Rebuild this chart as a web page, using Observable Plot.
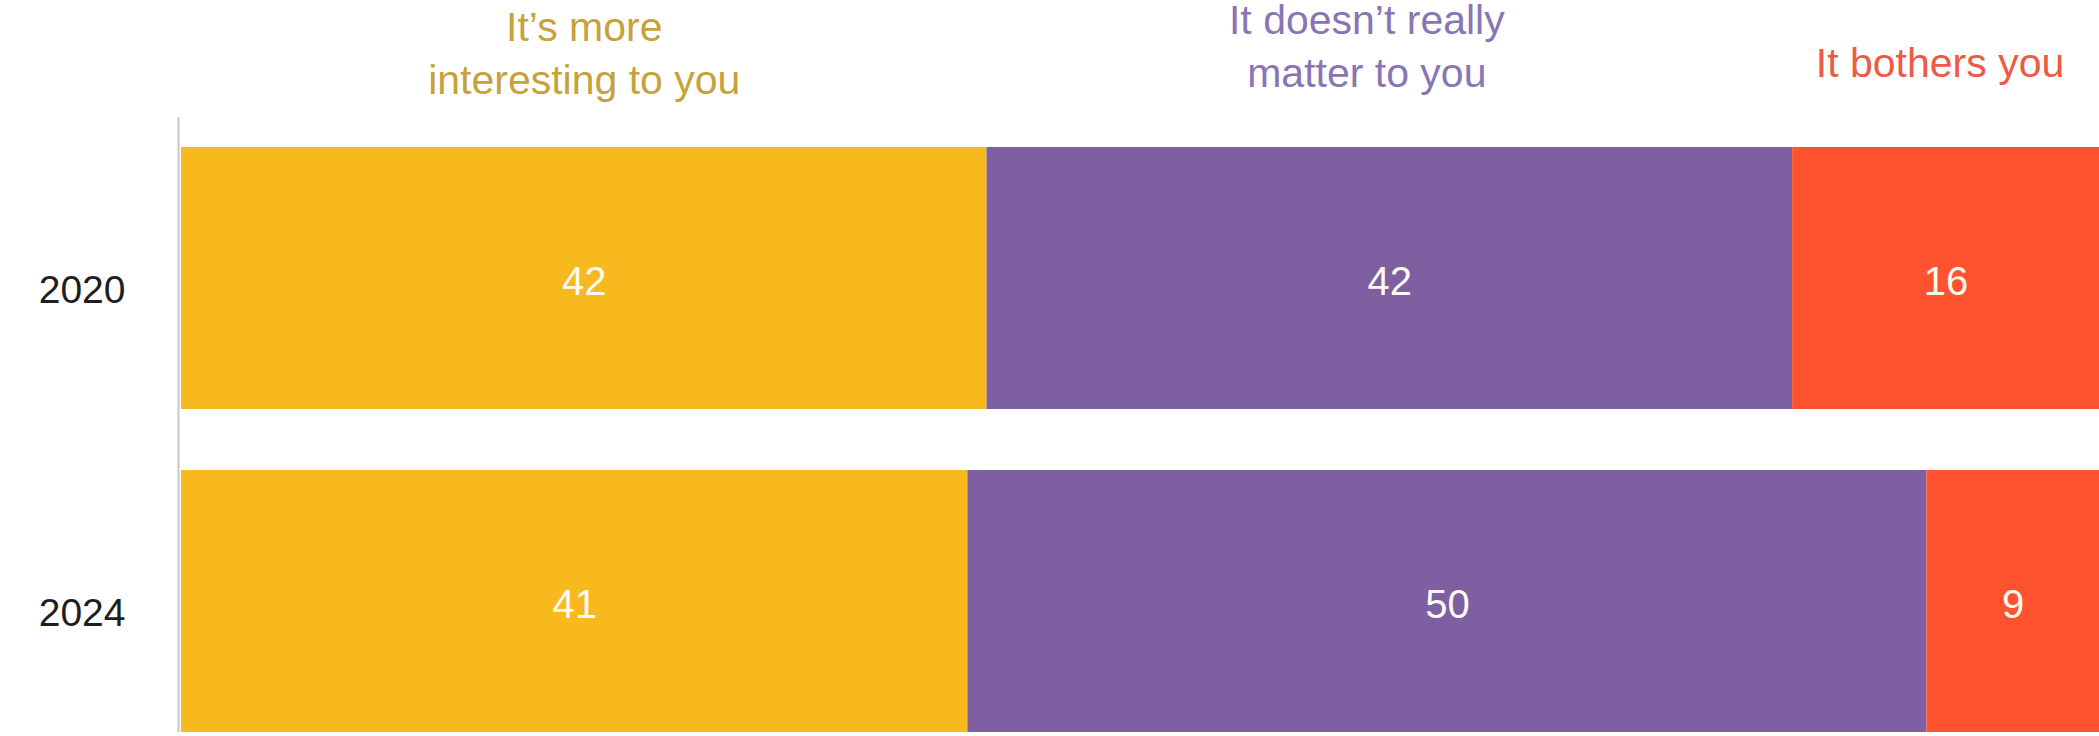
<!DOCTYPE html>
<html>
<head>
<meta charset="utf-8">
<script src="https://cdn.jsdelivr.net/npm/d3@7"></script>
<script src="https://cdn.jsdelivr.net/npm/@observablehq/plot@0.6"></script>
<style>
  html, body { margin: 0; padding: 0; background: #ffffff; }
  #chart svg { display: block; }
</style>
</head>
<body>
<div id="chart"></div>
<script>
// ---- data ----
const years = ["2020", "2024"];
const categories = ["It’s more interesting to you", "It doesn’t really matter to you", "It bothers you"];
const headerLines = ["It’s more\ninteresting to you", "It doesn’t really\nmatter to you", "It bothers you"];
const values2020 = [42, 42, 16];
const values2024 = [41, 50, 9];
const barColors = ["#F8B91E", "#7E5FA2", "#FF532F"];
const labelColors = ["#C6A23B", "#8A75B4", "#EE5A43"];

const seriesByYear = [values2020, values2024];
const data = years.flatMap((yr, i) =>
  categories.map((c, j) => ({year: yr, category: c, value: seriesByYear[i][j]}))
);

// header placement tweaks (vertical center offset from bar top, horizontal nudge)
const headerDy = [-97, -104, -88];
const headerDx = [0, -23, -6];

const font = "'Liberation Sans', Arial, Helvetica, sans-serif";

const chart = Plot.plot({
  width: 2099,
  height: 736,
  marginLeft: 181,
  marginRight: 0,
  marginTop: 147,
  marginBottom: 4,
  style: {fontFamily: font, background: "transparent", overflow: "visible"},
  x: {domain: [0, 100], axis: null},
  y: {domain: years, paddingInner: 0.19, paddingOuter: 0, axis: null},
  color: {domain: categories, range: barColors},
  marks: [
    Plot.barX(data, Plot.stackX({x: "value", y: "year", fill: "category", order: categories})),
    Plot.ruleX([0], {stroke: "#c8c8c8", strokeWidth: 2, insetTop: -30, dx: -3}),
    Plot.axisY({tickSize: 0, tickPadding: 56, fontSize: 39, fill: "#1e1e1e", label: null, dy: 12}),
    Plot.text(data, Plot.stackX({
      x: "value", y: "year", z: "category", order: categories,
      text: d => String(d.value), fill: "#fffaf0", fontSize: 40, dy: 4
    })),
    ...categories.map((c, j) =>
      Plot.text(data.filter(d => d.year === years[0]), Plot.stackX({
        x: "value", z: "category", order: categories,
        text: d => d.category === c ? headerLines[j] : null,
        frameAnchor: "top", lineAnchor: "middle", lineHeight: 1.3,
        dy: headerDy[j], dx: headerDx[j],
        fill: labelColors[j], fontSize: 41
      }))
    )
  ]
});

document.getElementById("chart").appendChild(chart);
</script>
</body>
</html>
